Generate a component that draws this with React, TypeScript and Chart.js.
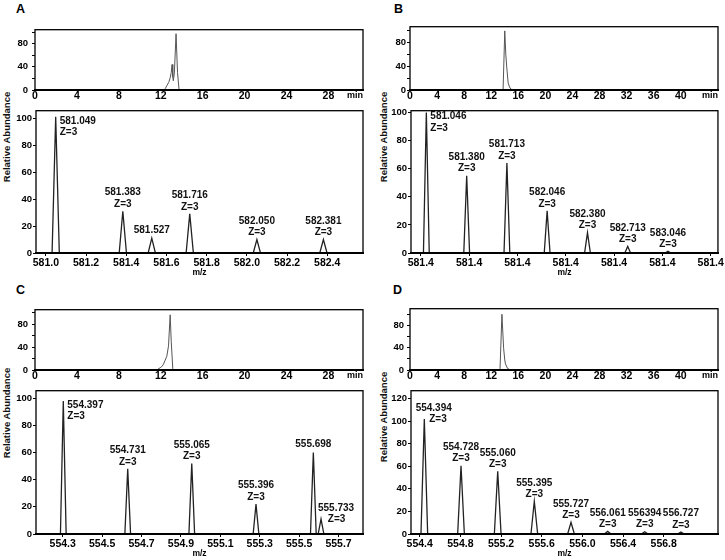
import React, { useEffect, useRef } from 'react';
import { Chart, registerables } from 'chart.js';

Chart.register(...registerables);

const FONT = '"Liberation Sans", Arial, Helvetica, sans-serif';

// ---------------- Panel A ----------------
const chromATime = [0, 12.3, 12.45, 12.6, 12.76, 12.9, 13.0, 13.08, 13.15, 13.2, 13.3, 13.46, 13.6, 13.75, 14.1, 14.3, 14.5, 31.3];
const chromAIntensity = [0, 0, 3, 8, 13, 21, 30, 44, 22, 16, 29, 97, 30, 0, 0, 1, 0, 0];
const chromATicks = [0, 4, 8, 12, 16, 20, 24, 28];
const chromATickLabels = ['0', '4', '8', '12', '16', '20', '24', '28'];

const specAMz = [581.049, 581.383, 581.527, 581.716, 582.05, 582.381];
const specAAbundance = [101, 31, 11, 29, 10, 10];
const specAMassLabels = ['581.049', '581.383', '581.527', '581.716', '582.050', '582.381'];
const specAChargeLabels = ['Z=3', 'Z=3', '', 'Z=3', 'Z=3', 'Z=3'];
const specATicks = [581.0, 581.2, 581.4, 581.6, 581.8, 582.0, 582.2, 582.4];
const specATickLabels = ['581.0', '581.2', '581.4', '581.6', '581.8', '582.0', '582.2', '582.4'];

// ---------------- Panel B ----------------
const chromBTime = [0, 13.75, 14.0, 14.15, 14.3, 14.5, 14.7, 14.9, 15.2, 45.5];
const chromBIntensity = [0, 0, 99, 60, 37, 12, 5, 1.5, 0, 0];
const chromBTicks = [0, 4, 8, 12, 16, 20, 24, 28, 32, 36, 40];
const chromBTickLabels = ['0', '4', '8', '12', '16', '20', '24', '28', '32', '36', '40'];

const specBMz = [581.046, 581.38, 581.713, 582.046, 582.38, 582.713, 583.046];
const specBAbundance = [100, 55, 64, 30, 14.5, 4.7, 1.2];
const specBMassLabels = ['581.046', '581.380', '581.713', '582.046', '582.380', '582.713', '583.046'];
const specBChargeLabels = ['Z=3', 'Z=3', 'Z=3', 'Z=3', 'Z=3', 'Z=3', 'Z=3'];
const specBTicks = [581.0, 581.4, 581.8, 582.2, 582.6, 583.0, 583.4];
const specBTickLabels = ['581.4', '581.4', '581.4', '581.4', '581.4', '581.4', '581.4'];

// ---------------- Panel C ----------------
const chromCTime = [0, 11.5, 11.7, 11.95, 12.1, 12.26, 12.42, 12.58, 12.74, 12.9, 13.0, 13.15, 13.25, 31.3];
const chromCIntensity = [0, 0, 1, 4, 6, 10, 17, 24, 42, 96, 50, 2, 0, 0];
const chromCTicks = [0, 4, 8, 12, 16, 20, 24, 28];
const chromCTickLabels = ['0', '4', '8', '12', '16', '20', '24', '28'];

const specCMz = [554.303, 554.63, 554.955, 555.281, 555.572, 555.611];
const specCAbundance = [98, 48, 52, 22, 60, 11];
const specCMassLabels = ['554.397', '554.731', '555.065', '555.396', '555.698', '555.733'];
const specCChargeLabels = ['Z=3', 'Z=3', 'Z=3', 'Z=3', '', 'Z=3'];
const specCTicks = [554.3, 554.5, 554.7, 554.9, 555.1, 555.3, 555.5, 555.7];
const specCTickLabels = ['554.3', '554.5', '554.7', '554.9', '555.1', '555.3', '555.5', '555.7'];

// ---------------- Panel D ----------------
const chromDTime = [0, 13.2, 13.3, 13.58, 13.7, 13.83, 14.0, 14.1, 14.4, 14.7, 15.0, 45.5];
const chromDIntensity = [0, 0, 2, 100, 70, 39, 18, 11, 3, 1, 0, 0];
const chromDTicks = [0, 4, 8, 12, 16, 20, 24, 28, 32, 36, 40];
const chromDTickLabels = ['0', '4', '8', '12', '16', '20', '24', '28', '32', '36', '40'];

const specDMz = [554.445, 554.806, 555.167, 555.527, 555.888, 556.249, 556.613, 556.969];
const specDAbundance = [102, 60.5, 55.6, 29, 10.4, 2.3, 2, 1.7];
const specDMassLabels = ['554.394', '554.728', '555.060', '555.395', '555.727', '556.061', '556394', '556.727'];
const specDChargeLabels = ['Z=3', 'Z=3', 'Z=3', 'Z=3', 'Z=3', 'Z=3', 'Z=3', 'Z=3'];
const specDTicks = [554.4, 554.8, 555.2, 555.6, 556.0, 556.4, 556.8];
const specDTickLabels = ['554.4', '554.8', '555.2', '555.6', '556.0', '556.4', '556.8'];

const chromYTicks = [0, 20, 40, 60, 80, 100];
const chromYTickLabels = ['0', '', '40', '', '80', ''];
const specYTicks = [0, 20, 40, 60, 80, 100];
const specYTickLabels = ['0', '20', '40', '60', '80', '100'];
const specDYTicks = [0, 20, 40, 60, 80, 100, 120];
const specDYTickLabels = ['0', '20', '40', '60', '80', '100', '120'];

// ---------------- styles / layout ----------------
const PAD_TOP = 4;
const PAD_RIGHT = 7;
const Y_AXIS_W = 35;
const CHROM_X_H = 14;
const SPEC_X_H = 25;

const framePlugin = {
  id: 'frame',
  afterDraw(chart: any) {
    const { ctx, chartArea: a } = chart;
    ctx.save();
    ctx.strokeStyle = '#000';
    ctx.lineWidth = 1.3;
    ctx.strokeRect(a.left, a.top, a.right - a.left, a.bottom - a.top);
    ctx.lineWidth = 2;
    ctx.beginPath();
    ctx.moveTo(a.left - 1, a.bottom);
    ctx.lineTo(a.right + 1, a.bottom);
    ctx.stroke();
    ctx.restore();
  },
};

const minPlugin = {
  id: 'minLabel',
  afterDraw(chart: any) {
    const { ctx, chartArea: a } = chart;
    ctx.save();
    ctx.font = `bold 9px ${FONT}`;
    ctx.fillStyle = '#000';
    ctx.textAlign = 'right';
    ctx.textBaseline = 'middle';
    ctx.fillText('min', a.right, a.bottom + 6);
    ctx.restore();
  },
};

function makePeakLabelPlugin(mz: number[], ab: number[], l1: string[], l2: string[], place: string[]) {
  return {
    id: 'peakLabels',
    afterDatasetsDraw(chart: any) {
      const { ctx } = chart;
      const xs = chart.scales.x;
      const ys = chart.scales.y;
      ctx.save();
      ctx.font = `bold 10px ${FONT}`;
      ctx.fillStyle = '#111';
      ctx.textBaseline = 'middle';
      mz.forEach((m, i) => {
        const px = xs.getPixelForValue(m);
        const py = ys.getPixelForValue(ab[i]);
        const p = place[i];
        if (p === 'right') {
          ctx.textAlign = 'left';
          ctx.fillText(l1[i], px + 4, py + 4);
          if (l2[i]) ctx.fillText(l2[i], px + 4, py + 15.5);
        } else if (p === 'aboveRight') {
          ctx.textAlign = 'center';
          ctx.fillText(l1[i], px + 15, py - 11.3);
          if (l2[i]) ctx.fillText(l2[i], px + 15.5, py + 0.3);
        } else if (p === 'upRight') {
          ctx.textAlign = 'center';
          ctx.fillText(l1[i], px + 9.4, py - 10.7);
          if (l2[i]) ctx.fillText(l2[i], px + 13.7, py + 0.6);
        } else {
          ctx.textAlign = 'center';
          if (l2[i]) {
            ctx.fillText(l1[i], px, py - 18.5);
            ctx.fillText(l2[i], px, py - 7);
          } else {
            ctx.fillText(l1[i], px, py - 8);
          }
        }
      });
      ctx.restore();
    },
  };
}

const tickFont = (size: number) => ({ family: FONT, size, weight: 'bold' as const });

function chromConfig(time: number[], inten: number[], xMax: number, yMax: number, xTicks: number[], xLabels: string[], yPad: number) {
  const data = time.map((t, i) => ({ x: t, y: inten[i] }));
  return {
    type: 'line',
    data: {
      datasets: [{ data, borderColor: '#555', borderWidth: 1, pointRadius: 0, tension: 0, fill: false }],
    },
    options: {
      responsive: false,
      maintainAspectRatio: false,
      animation: false,
      events: [],
      layout: { padding: { left: 0, top: PAD_TOP, right: PAD_RIGHT, bottom: 0 }, autoPadding: false },
      plugins: { legend: { display: false }, tooltip: { enabled: false }, title: { display: false } },
      scales: {
        x: {
          type: 'linear',
          min: 0,
          max: xMax,
          afterFit: (s: any) => { s.height = CHROM_X_H; },
          afterBuildTicks: (s: any) => { s.ticks = xTicks.map((v) => ({ value: v })); },
          ticks: { autoSkip: false, maxRotation: 0, padding: 0, color: '#000', font: tickFont(10.5), callback: (_v: any, i: number) => xLabels[i] },
          grid: { display: true, drawOnChartArea: false, drawTicks: false },
          border: { display: false },
        },
        y: {
          type: 'linear',
          min: 0,
          max: yMax,
          afterFit: (s: any) => { s.width = Y_AXIS_W; },
          afterBuildTicks: (s: any) => { s.ticks = chromYTicks.map((v) => ({ value: v })); },
          ticks: { autoSkip: false, padding: yPad, color: '#000', font: tickFont(9.5), callback: (_v: any, i: number) => chromYTickLabels[i] },
          grid: { display: true, drawOnChartArea: false, drawTicks: true, tickLength: 3, tickColor: '#000' },
          border: { display: false },
        },
      },
    },
    plugins: [framePlugin, minPlugin],
  };
}

function specConfig(
  mz: number[], ab: number[], halfW: number, xMin: number, xMax: number, yMax: number,
  xTicks: number[], xLabels: string[], yTicks: number[], yLabels: string[],
  l1: string[], l2: string[], place: string[],
) {
  const pts: { x: number; y: number }[] = [{ x: xMin, y: 0 }];
  mz.forEach((m, i) => {
    pts.push({ x: m - halfW, y: 0 }, { x: m, y: ab[i] }, { x: m + halfW, y: 0 });
  });
  pts.push({ x: xMax, y: 0 });
  return {
    type: 'line',
    data: {
      datasets: [{ data: pts, borderColor: '#222', borderWidth: 1.3, pointRadius: 0, tension: 0, fill: false }],
    },
    options: {
      responsive: false,
      maintainAspectRatio: false,
      animation: false,
      events: [],
      layout: { padding: { left: 0, top: PAD_TOP, right: PAD_RIGHT, bottom: 0 }, autoPadding: false },
      plugins: { legend: { display: false }, tooltip: { enabled: false }, title: { display: false } },
      scales: {
        x: {
          type: 'linear',
          min: xMin,
          max: xMax,
          afterFit: (s: any) => { s.height = SPEC_X_H; },
          afterBuildTicks: (s: any) => { s.ticks = xTicks.map((v) => ({ value: v })); },
          ticks: { autoSkip: false, maxRotation: 0, padding: 1, color: '#000', font: tickFont(10.5), callback: (_v: any, i: number) => xLabels[i] },
          grid: { display: true, drawOnChartArea: false, drawTicks: true, tickLength: 3, tickColor: '#000' },
          border: { display: false },
          title: { display: true, text: 'm/z', color: '#000', font: { family: FONT, size: 8.5, weight: 'bold' }, padding: 0 },
        },
        y: {
          type: 'linear',
          min: 0,
          max: yMax,
          afterFit: (s: any) => { s.width = Y_AXIS_W; },
          afterBuildTicks: (s: any) => { s.ticks = yTicks.map((v) => ({ value: v })); },
          ticks: { autoSkip: false, padding: 1, color: '#000', font: tickFont(9.5), callback: (_v: any, i: number) => yLabels[i] },
          grid: { display: true, drawOnChartArea: false, drawTicks: true, tickLength: 3, tickColor: '#000' },
          border: { display: false },
        },
      },
    },
    plugins: [framePlugin, makePeakLabelPlugin(mz, ab, l1, l2, place)],
  };
}

type Box = { L: number; T: number; R: number; B: number; xh: number };

function ChartCanvas({ box, build }: { box: Box; build: () => any }) {
  const ref = useRef<HTMLCanvasElement | null>(null);
  const left = box.L - Y_AXIS_W;
  const top = box.T - PAD_TOP;
  const width = box.R + PAD_RIGHT - left;
  const height = PAD_TOP + (box.B - box.T) + box.xh;
  useEffect(() => {
    const chart = new Chart(ref.current as HTMLCanvasElement, build());
    return () => chart.destroy();
  }, []);
  return (
    <canvas
      ref={ref}
      width={width}
      height={height}
      style={{ position: 'absolute', left, top, width, height }}
    />
  );
}

const letterStyle = (left: number, top: number): React.CSSProperties => ({
  position: 'absolute', left, top, fontFamily: FONT, fontWeight: 'bold', fontSize: 12.5, lineHeight: '12px', color: '#000',
});

function YTitle({ cx, cy }: { cx: number; cy: number }) {
  const w = 130;
  const h = 12;
  return (
    <div
      style={{
        position: 'absolute', left: cx - w / 2, top: cy - h / 2, width: w, height: h, lineHeight: `${h}px`,
        textAlign: 'center', transform: 'rotate(-90deg)', fontFamily: FONT, fontWeight: 'bold', fontSize: 9.5, color: '#111',
        whiteSpace: 'nowrap',
      }}
    >
      Relative Abundance
    </div>
  );
}

export default function App() {
  return (
    <div style={{ position: 'absolute', left: 0, top: 0, width: 725, height: 560, background: '#fff', overflow: 'hidden' }}>
      <div style={letterStyle(16, 2.5)}>A</div>
      <div style={letterStyle(394, 2.5)}>B</div>
      <div style={letterStyle(16, 283.5)}>C</div>
      <div style={letterStyle(393, 283.5)}>D</div>
      <YTitle cx={7} cy={137} />
      <YTitle cx={384} cy={137} />
      <YTitle cx={7} cy={413} />
      <YTitle cx={384} cy={417} />

      <ChartCanvas box={{ L: 35, T: 24, R: 363, B: 90, xh: CHROM_X_H }}
        build={() => chromConfig(chromATime, chromAIntensity, 31.3, 104, chromATicks, chromATickLabels, 4)} />
      <ChartCanvas box={{ L: 36, T: 108, R: 363, B: 253, xh: SPEC_X_H }}
        build={() => specConfig(specAMz, specAAbundance, 0.018, 580.951, 582.578, 105.5, specATicks, specATickLabels,
          specYTicks, specYTickLabels, specAMassLabels, specAChargeLabels,
          ['right', 'above', 'above', 'above', 'above', 'above'])} />

      <ChartCanvas box={{ L: 410, T: 24, R: 718, B: 90, xh: CHROM_X_H }}
        build={() => chromConfig(chromBTime, chromBIntensity, 45.5, 106, chromBTicks, chromBTickLabels, 1)} />
      <ChartCanvas box={{ L: 411, T: 108, R: 718, B: 253, xh: SPEC_X_H }}
        build={() => specConfig(specBMz, specBAbundance, 0.024, 580.919, 583.46, 101.3, specBTicks, specBTickLabels,
          specYTicks, specYTickLabels, specBMassLabels, specBChargeLabels,
          ['right', 'above', 'above', 'above', 'above', 'above', 'above'])} />

      <ChartCanvas box={{ L: 35, T: 303.5, R: 363, B: 370, xh: CHROM_X_H }}
        build={() => chromConfig(chromCTime, chromCIntensity, 31.3, 105, chromCTicks, chromCTickLabels, 4)} />
      <ChartCanvas box={{ L: 36, T: 388, R: 363, B: 534, xh: SPEC_X_H }}
        build={() => specConfig(specCMz, specCAbundance, 0.0145, 554.1645, 555.824, 105.6, specCTicks, specCTickLabels,
          specYTicks, specYTickLabels, specCMassLabels, specCChargeLabels,
          ['right', 'above', 'above', 'above', 'above', 'aboveRight'])} />

      <ChartCanvas box={{ L: 410, T: 303.5, R: 718, B: 370, xh: CHROM_X_H }}
        build={() => chromConfig(chromDTime, chromDIntensity, 45.5, 110, chromDTicks, chromDTickLabels, 3)} />
      <ChartCanvas box={{ L: 411, T: 388, R: 718, B: 534, xh: SPEC_X_H }}
        build={() => specConfig(specDMz, specDAbundance, 0.033, 554.314, 557.334, 127, specDTicks, specDTickLabels,
          specDYTicks, specDYTickLabels, specDMassLabels, specDChargeLabels,
          ['upRight', 'above', 'above', 'above', 'above', 'above', 'above', 'above'])} />
    </div>
  );
}
